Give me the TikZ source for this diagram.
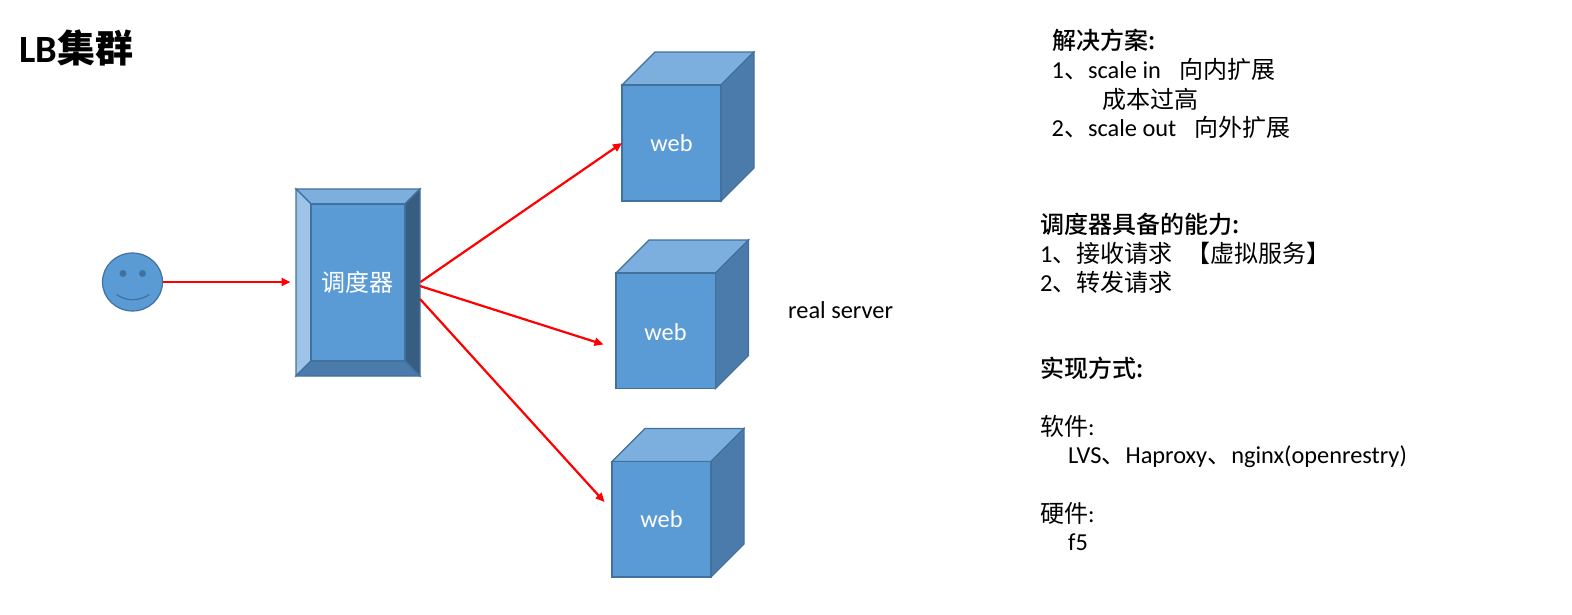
\documentclass[tikz,border=0pt]{standalone}
\usepackage{fontspec}
\setmainfont[Scale=1.015,Numbers=Lining]{Carlito}
\newfontfamily\cjk{Noto Sans CJK SC}
\newfontfamily\cjkb{Noto Sans CJK SC Medium}
\usetikzlibrary{arrows.meta,shapes.geometric}
\definecolor{face}{HTML}{5B9BD5}
\definecolor{edge}{HTML}{41719C}
\definecolor{lite}{HTML}{7CAEDE}
\definecolor{dark}{HTML}{4A7BAB}
\definecolor{bevL}{HTML}{9DC3E6}
\definecolor{bevR}{HTML}{375D81}
\tikzset{
  x=1pt,y=-1pt,
  tx/.style={anchor=base west,inner sep=0pt,font=\fontsize{24}{24}\selectfont,text=black},
  inlab/.style={inner sep=0pt,font=\fontsize{24}{24}\selectfont,text=white},
  shp/.style={draw=edge,line width=1.2pt,line join=miter},
  arr/.style={draw=red,line width=2.2pt,-{Triangle[length=9pt,width=8pt]}},
}
\begin{document}
\begin{tikzpicture}
\useasboundingbox (0,0) rectangle (1572,614);
\fill[white] (0,0) rectangle (1572,614);
% user
\node[ellipse,shp,fill=face,minimum width=60pt,minimum height=58pt,inner sep=0pt,outer sep=0pt] (user) at (132.5,282) {};
\fill[edge] (123,273.5) circle (3.5);
\fill[edge] (142.5,273.5) circle (3.5);
\draw[edge,line width=1.2pt] (116.5,294.5) .. controls (126.5,301.5) and (138.5,301.5) .. (149.5,294.5);
% scheduler
\node[inner sep=0pt,outer sep=0pt,minimum width=125pt,minimum height=188pt] (sched) at (358,282) {};
\filldraw[shp,fill=lite] (296,189) -- (420,189) -- (405,204) -- (311,204) -- cycle;
\filldraw[shp,fill=bevL] (296,189) -- (311,204) -- (311,361) -- (296,376) -- cycle;
\filldraw[shp,fill=bevR] (420,189) -- (405,204) -- (405,361) -- (420,376) -- cycle;
\filldraw[shp,fill=dark] (296,376) -- (311,361) -- (405,361) -- (420,376) -- cycle;
\filldraw[shp,fill=face] (311,204) rectangle (405,361);
\node[inlab,font=\fontsize{24}{24}\selectfont\cjk] (schedl) at (357.5,282) {调度器};
% cubes
\newcommand{\cube}[6]{% name, x0,y0,x1,y1,d
  \filldraw[shp,fill=lite] (#2,#3) -- ({#2+#6},{#3-#6}) -- ({#4+#6},{#3-#6}) -- (#4,#3) -- cycle;
  \filldraw[shp,fill=dark] (#4,#3) -- ({#4+#6},{#3-#6}) -- ({#4+#6},{#5-#6}) -- (#4,#5) -- cycle;
  \node[shp,fill=face,inner sep=0pt,outer sep=0pt,minimum width={#4-#2},minimum height={#5-#3},anchor=north west] (#1) at (#2,#3) {};
}
\cube{weba}{622}{85}{721}{201}{33}
\cube{webb}{616}{273}{715.5}{388.5}{33}
\cube{webc}{612}{461.5}{711}{577}{33}
\node[inlab] (la) at (671.5,143) {web};
\node[inlab] (lb) at (665.5,332) {web};
\node[inlab] (lc) at (661.5,519) {web};
% arrows
\coordinate (e2) at (603.5,344.5);
\coordinate (e3) at (604.5,502);
\coordinate (s2) at (420,286);
\coordinate (s3) at (420,299);
\draw[arr,shorten >=5pt] (user.east) -- (sched.west);
\draw[arr] (sched.east) -- (weba.west);
\draw[arr] (s2) -- (e2);
\draw[arr] (s3) -- (e3);
% texts
\node[anchor=base west,inner sep=0pt,font=\fontsize{38}{38}\selectfont\bfseries] (title) at (19,62) {LB{\cjkb 集群}};
\node[tx] (rs) at (788,318) {real server};
\node[tx,font=\fontsize{24}{24}\selectfont\cjkb] (t1) at (1052,49) {解决方案:};
\node[tx] (t2) at (1051.5,78.5) {1{\cjk 、}scale in\hspace{18.5pt}{\cjk 向内扩展}};
\node[tx] (t3) at (1102,108) {\cjk 成本过高};
\node[tx] (t4) at (1051.5,136.5) {2{\cjk 、}scale out\hspace{18pt}{\cjk 向外扩展}};
\node[tx,font=\fontsize{24}{24}\selectfont\cjkb] (t5) at (1040,233) {调度器具备的能力:};
\node[tx] (t6) at (1040,262) {1{\cjk 、接收请求\hspace{14pt}【虚拟服务】}};
\node[tx] (t7) at (1040,291) {2{\cjk 、转发请求}};
\node[tx,font=\fontsize{24}{24}\selectfont\cjkb] (t8) at (1040,377) {实现方式:};
\node[tx] (t9) at (1040,435) {{\cjk 软件}:};
\node[tx] (t10) at (1068,463) {LVS{\cjk 、}Haproxy{\cjk 、}nginx(openrestry)};
\node[tx] (t11) at (1040,522) {{\cjk 硬件}:};
\node[tx] (t12) at (1068,550) {f5};
\end{tikzpicture}
\end{document}
